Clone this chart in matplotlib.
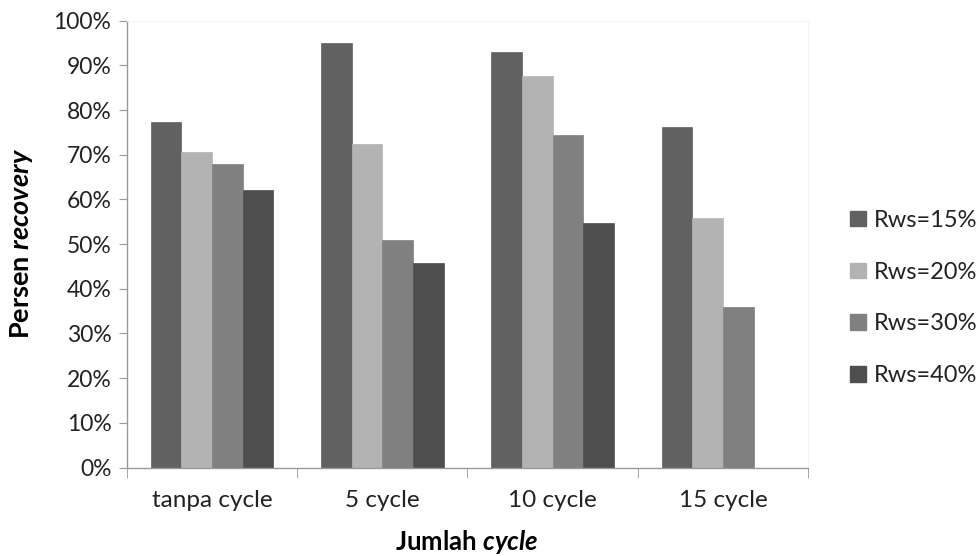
import matplotlib
matplotlib.use("Agg")
import matplotlib.pyplot as plt
import numpy as np
from matplotlib.patches import Patch
from matplotlib.ticker import PercentFormatter

plt.rcParams['font.family'] = ['Lato', 'DejaVu Sans']
plt.rcParams['mathtext.fontset'] = 'custom'
plt.rcParams['mathtext.it'] = 'Lato:bold:italic'

categories = ["tanpa cycle", "5 cycle", "10 cycle", "15 cycle"]
series_names = ["Rws=15%", "Rws=20%", "Rws=30%", "Rws=40%"]
rws15 = [77.3, 94.9, 93.1, 76.2]
rws20 = [70.7, 72.4, 87.6, 55.8]
rws30 = [67.9, 50.9, 74.4, 35.9]
rws40 = [62.0, 45.7, 54.7, np.nan]
colors = ["#616161", "#b3b3b3", "#808080", "#4e4e4e"]

W, H = 979, 556
fig = plt.figure(figsize=(W / 100, H / 100), dpi=100)
ax = fig.add_axes([126.7 / W, 1 - 467.5 / H, (808.3 - 126.7) / W, (467.5 - 20.7) / H])

x = np.arange(len(categories))
bw = 0.18
series = [rws15, rws20, rws30, rws40]
for i, (vals, c) in enumerate(zip(series, colors)):
    ax.bar(x + (i - 1.5) * bw, vals, width=bw, color=c, edgecolor=c, linewidth=0.5)

ax.set_xlim(-0.5, len(categories) - 0.5)
ax.set_ylim(0, 100)
ax.set_yticks(np.arange(0, 101, 10))
ax.yaxis.set_major_formatter(PercentFormatter(decimals=0))
ax.set_xticks(x)
ax.set_xticklabels(categories)
ax.set_xticks(np.arange(-0.5, len(categories), 1), minor=True)
ax.tick_params(axis='x', which='major', length=0, pad=16, labelsize=17.5, labelcolor='#222222')
ax.tick_params(axis='x', which='minor', length=7, color='#999999', direction='out')
ax.tick_params(axis='y', length=6, color='#999999', pad=5, labelsize=16.5, labelcolor='#222222')

for s in ['top', 'right']:
    ax.spines[s].set_color('#f4f4f4')
    ax.spines[s].set_linewidth(0.8)
for s in ['left', 'bottom']:
    ax.spines[s].set_color('#999999')
    ax.spines[s].set_linewidth(1.0)

fig.text(22 / W, 1 - 243 / H, r"Persen $\mathit{recovery}$", fontsize=19.5, fontweight='bold',
         rotation=90, ha='center', va='center', color='black')
fig.text(467 / W, 1 - 542 / H, r"Jumlah $\mathit{cycle}$", fontsize=18.5, fontweight='bold',
         ha='center', va='center', color='black')

handles = [Patch(facecolor=c, edgecolor=c) for c in colors]
fig.legend(handles, series_names, loc='center left', bbox_to_anchor=(841 / W, 1 - 298 / H),
           frameon=False, fontsize=17, handlelength=0.64, handleheight=0.64,
           labelspacing=1.3, handletextpad=0.35, labelcolor='#222222',
           borderaxespad=0)

fig.savefig("out.png", dpi=100, facecolor='white')
